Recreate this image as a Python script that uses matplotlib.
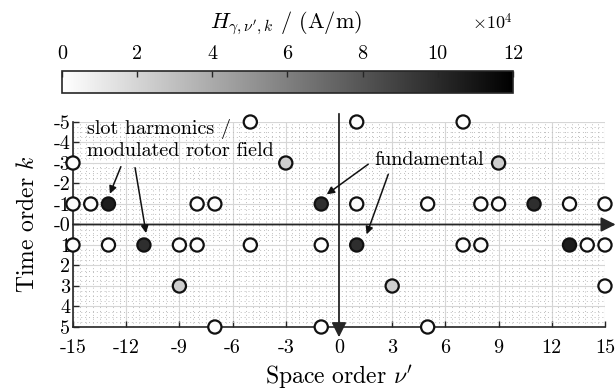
import numpy as np
import matplotlib
matplotlib.use("Agg")
import matplotlib.pyplot as plt
from matplotlib.ticker import MultipleLocator

plt.rcParams['font.family'] = 'serif'
plt.rcParams['font.serif'] = ['cmr10']
plt.rcParams['mathtext.fontset'] = 'cm'
plt.rcParams['axes.unicode_minus'] = False
plt.rcParams['axes.formatter.use_mathtext'] = True

# harmonic field components: space order, time order, amplitude in 1e4 A/m
nu = [-5, 1, 7,
      -15, -3, 9,
      -15, -14, -13, -8, -7, -1, 1, 5, 8, 9, 11, 13, 15,
      -15, -13, -11, -9, -8, -5, -1, 1, 7, 8, 13, 14, 15,
      -9, 3, 15,
      -7, -1, 5]
k = [-5, -5, -5,
     -3, -3, -3,
     -1, -1, -1, -1, -1, -1, -1, -1, -1, -1, -1, -1, -1,
     1, 1, 1, 1, 1, 1, 1, 1, 1, 1, 1, 1, 1,
     3, 3, 3,
     5, 5, 5]
H = [0.1, 0.1, 0.1,
     0.1, 2.3, 2.3,
     0.1, 0.1, 10.6, 0.1, 0.1, 9.8, 0.1, 0.1, 0.1, 0.1, 9.8, 0.1, 0.1,
     0.1, 0.1, 9.8, 0.1, 0.1, 0.1, 0.1, 9.8, 0.1, 0.1, 10.6, 0.1, 0.1,
     2.3, 2.3, 0.1,
     0.1, 0.1, 0.1]

x_ticks = [-15, -12, -9, -6, -3, 0, 3, 6, 9, 12, 15]
y_ticks = [-5, -4, -3, -2, -1, 0, 1, 2, 3, 4, 5]
y_ticklabels = ['-5', '-4', '-3', '-2', '-1', '-0', '1', '2', '3', '4', '5']
cb_ticks = [0, 2, 4, 6, 8, 10, 12]

axcol = '#262626'

fig = plt.figure(figsize=(6.16, 3.91), dpi=100)
ax = fig.add_axes([0.1185, 0.1637, 0.8636, 0.5243])

ax.set_xlim(-15, 15)
ax.set_ylim(5, -5)
ax.set_xticks(x_ticks)
ax.set_xticklabels([str(t) for t in x_ticks])
ax.set_yticks(y_ticks)
ax.set_yticklabels(y_ticklabels)
ax.xaxis.set_minor_locator(MultipleLocator(0.375))
ax.yaxis.set_minor_locator(MultipleLocator(0.25))
ax.tick_params(which='major', direction='in', length=4, width=1, color=axcol,
               labelsize=14.5)
ax.tick_params(axis='x', which='major', pad=9)
ax.tick_params(axis='y', which='major', pad=2)
ax.tick_params(which='minor', length=0)
ax.grid(which='major', color='#d6d6d6', lw=0.8)
ax.grid(which='minor', color='#bdbdbd', lw=0.7, ls=(0, (1, 3)))
ax.set_axisbelow(True)
for s in ['top', 'right']:
    ax.spines[s].set_visible(False)
for s in ['left', 'bottom']:
    ax.spines[s].set_color(axcol)
    ax.spines[s].set_linewidth(1.2)

ax.set_xlabel("Space order $\\nu'$", fontsize=17, labelpad=4)
ax.set_ylabel("Time order $k$", fontsize=17, labelpad=10)

# coordinate axes with arrow heads
ax.annotate('', xy=(15.6, 0), xytext=(-15, 0), annotation_clip=False,
            arrowprops=dict(arrowstyle='-|>', color=axcol, lw=1.3,
                            mutation_scale=22, shrinkA=0, shrinkB=0), zorder=2)
ax.annotate('', xy=(0, 5.5), xytext=(0, -5.4), annotation_clip=False,
            arrowprops=dict(arrowstyle='-|>', color=axcol, lw=1.3,
                            mutation_scale=22, shrinkA=0, shrinkB=0), zorder=2)

sc = ax.scatter(nu, k, c=H, cmap='gray_r', vmin=0, vmax=12, s=90,
                edgecolors='#111111', linewidths=1.6, clip_on=False, zorder=3)

# annotations
ax.text(-14.2, -4.16, "slot harmonics /\nmodulated rotor field", fontsize=14.5,
        ha='left', va='center', linespacing=1.25, zorder=4)
arw = dict(arrowstyle='-|>', color='#111111', lw=1.1, mutation_scale=11,
           shrinkA=0, shrinkB=0)
ax.annotate('', xy=(-12.92, -1.5), xytext=(-12.3, -2.82), arrowprops=arw)
ax.annotate('', xy=(-10.88, 0.42), xytext=(-11.5, -2.77), arrowprops=arw)
ax.text(2.0, -3.15, "fundamental", fontsize=14.5, ha='left', va='center', zorder=4)
ax.annotate('', xy=(-0.69, -1.47), xytext=(1.65, -2.94), arrowprops=arw)
ax.annotate('', xy=(1.56, 0.48), xytext=(2.78, -2.45), arrowprops=arw)

# colorbar on top
cax = fig.add_axes([0.1006, 0.762, 0.732, 0.0563])
cb = fig.colorbar(sc, cax=cax, orientation='horizontal', ticks=cb_ticks)
cax.xaxis.set_ticks_position('top')
cax.xaxis.set_label_position('top')
cax.set_xticklabels([str(t) for t in cb_ticks])
cax.tick_params(direction='in', length=4, width=1, color=axcol, labelsize=14.5, pad=6)
cb.outline.set_edgecolor(axcol)
cb.outline.set_linewidth(1.2)
fig.text(0.464, 0.942, "$H_{\\gamma,\\nu',k}$ / (A/m)", fontsize=16,
         ha='center', va='center')
fig.text(0.832, 0.944, "$\\times10^{4}$", fontsize=13, ha='right', va='center')

fig.savefig('out.png', dpi=100)
